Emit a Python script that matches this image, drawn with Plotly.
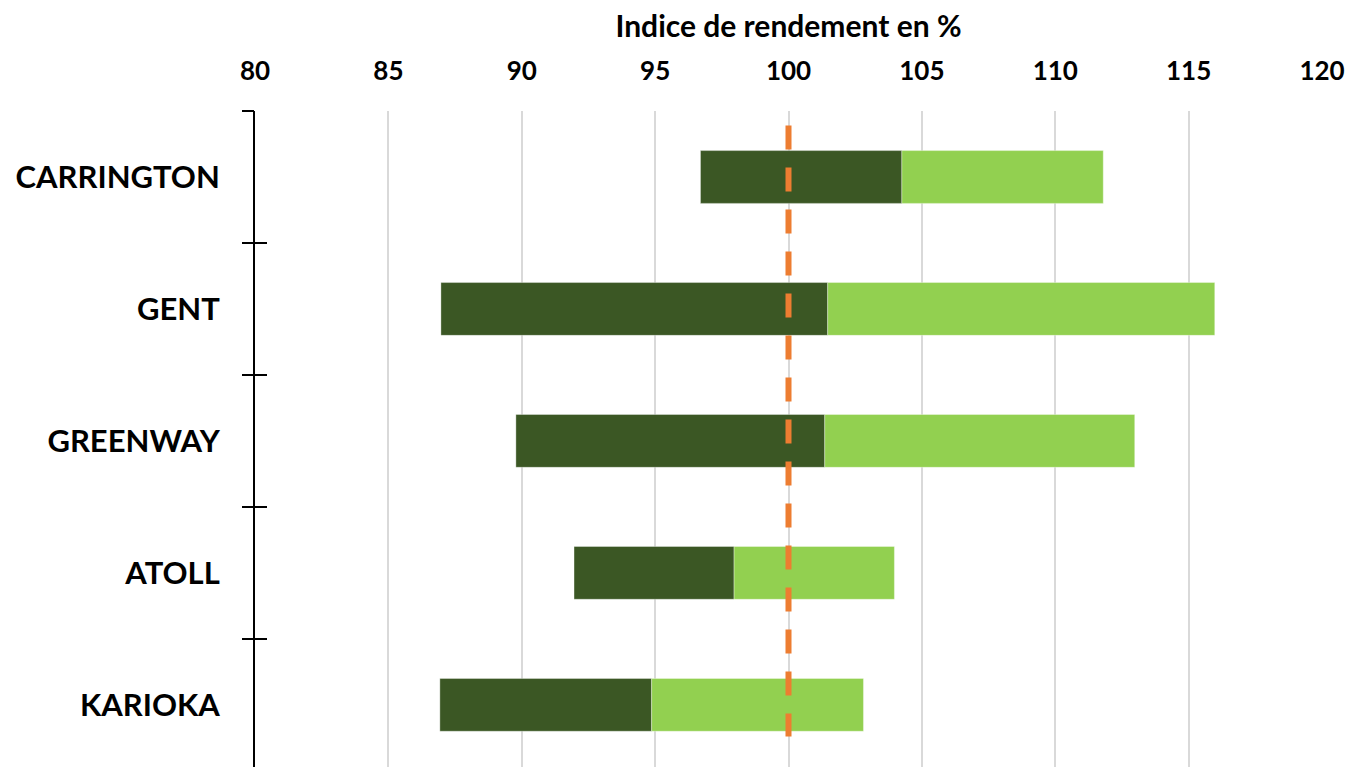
import plotly.graph_objects as go

categories = ["CARRINGTON", "GENT", "GREENWAY", "ATOLL", "KARIOKA"]
low_values = [96.70, 86.97, 89.78, 91.96, 86.93]
mid_values = [104.25, 101.47, 101.36, 97.96, 94.87]
high_values = [111.80, 115.98, 112.98, 103.97, 102.81]
reference_value = 100
reference_span = [-0.39, 4.24]
x_ticks = [80, 85, 90, 95, 100, 105, 110, 115, 120]

positions = list(range(len(categories)))
boundaries = [p - 0.5 for p in positions] + [positions[-1] + 0.5]
dark_len = [m - l for l, m in zip(low_values, mid_values)]
light_len = [h - m for m, h in zip(mid_values, high_values)]

DARK = "#3B5724"
LIGHT = "#92D050"
ORANGE = "#ED7D31"
FONT = "Lato"

fig = go.Figure()
fig.add_trace(go.Bar(
    y=positions, x=dark_len, base=low_values, orientation="h", width=0.4,
    marker=dict(color=DARK, line=dict(color="rgba(255,255,255,0.35)", width=1)),
    showlegend=False, hoverinfo="skip"))
fig.add_trace(go.Bar(
    y=positions, x=light_len, base=mid_values, orientation="h", width=0.4,
    marker=dict(color=LIGHT, line=dict(color="rgba(255,255,255,0.35)", width=1)),
    showlegend=False, hoverinfo="skip"))
fig.add_trace(go.Scatter(
    x=[reference_value, reference_value], y=reference_span, mode="lines",
    line=dict(color=ORANGE, width=6, dash="24px,18px"),
    showlegend=False, hoverinfo="skip"))

yrange = [4.471, -0.5]
fig.update_layout(
    width=1346, height=767,
    margin=dict(l=255, r=24, t=111, b=0, autoexpand=False),
    plot_bgcolor="white", paper_bgcolor="white",
    barmode="overlay",
    font=dict(family=FONT, color="black"),
    xaxis=dict(
        side="top", range=[80, 120], tickvals=x_ticks, automargin=False,
        showgrid=True, gridcolor="#D9D9D9", gridwidth=2,
        zeroline=False, showline=False, ticks="", ticklabeloverflow="allow",
        tickfont=dict(family=FONT, size=26, color="black", weight="bold"),
        ticklabelstandoff=25,
        title=dict(text="<b>Indice de rendement en %</b>",
                   font=dict(family=FONT, size=30, color="black"), standoff=7),
    ),
    yaxis=dict(
        range=yrange, tickvals=positions, ticktext=categories, automargin=False,
        showgrid=False, zeroline=False, showline=True, linecolor="black", linewidth=2,
        ticks="", ticklabelstandoff=27,
        tickfont=dict(family=FONT, size=31, color="black", weight="bold"),
    ),
    yaxis2=dict(
        overlaying="y", side="left", range=yrange, tickvals=boundaries, automargin=False,
        showticklabels=False, showgrid=False, zeroline=False, showline=False,
        ticks="outside", ticklen=12, tickwidth=2, tickcolor="black",
    ),
    yaxis3=dict(
        overlaying="y", side="left", range=yrange, tickvals=boundaries, automargin=False,
        showticklabels=False, showgrid=False, zeroline=False, showline=False,
        ticks="inside", ticklen=12, tickwidth=2, tickcolor="black",
    ),
)
fig.add_trace(go.Scatter(x=[reference_value], y=[positions[0]], yaxis="y2", mode="markers",
                         marker=dict(opacity=0), showlegend=False, hoverinfo="skip"))
fig.add_trace(go.Scatter(x=[reference_value], y=[positions[0]], yaxis="y3", mode="markers",
                         marker=dict(opacity=0), showlegend=False, hoverinfo="skip"))

fig.write_html(
    "out.html",
    config={"displayModeBar": False},
    post_script="document.body.style.margin='0';document.body.style.overflow='hidden';",
)
